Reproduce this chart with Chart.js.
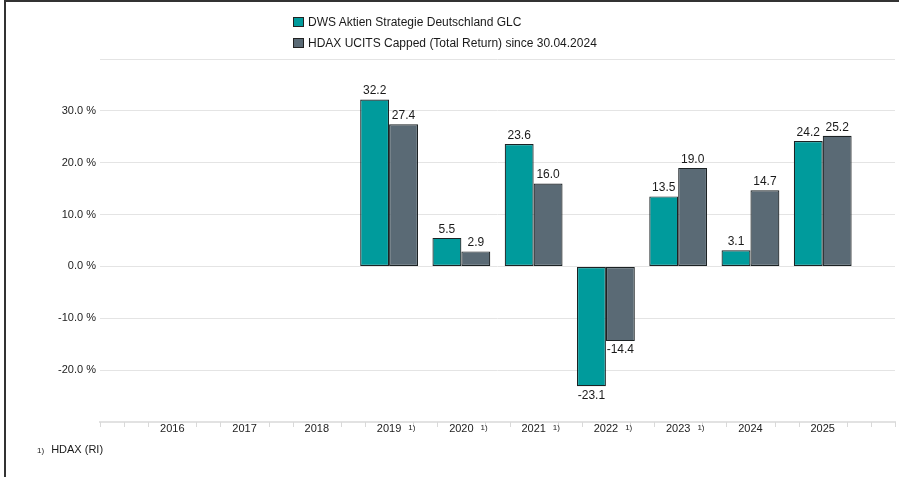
<!DOCTYPE html>
<html><head><meta charset="utf-8">
<script src="https://cdn.jsdelivr.net/npm/chart.js@4/dist/chart.umd.min.js"></script>
<style>
html,body{margin:0;padding:0;background:#fff;}
#wrap{position:relative;width:899px;height:477px;overflow:hidden;font-family:"Liberation Sans",Arial,sans-serif;}
#frame{position:absolute;left:4px;top:0;width:895px;height:477px;border-left:2px solid #333;border-top:2px solid #333;box-sizing:border-box;pointer-events:none;}
canvas{position:absolute;left:0;top:0;}
#legend{position:absolute;left:293px;top:11px;}
.li{display:flex;align-items:center;height:21px;font-size:12px;color:#1a1a1a;white-space:nowrap;}
.sw{width:11px;height:10px;box-sizing:border-box;border:1px solid #222;margin-right:4px;}
#foot{position:absolute;left:37px;top:441px;font-size:11px;color:#1a1a1a;display:flex;align-items:center;height:16px;}
#foot .m{font-size:8px;margin-right:7px;margin-top:2px;}
</style>
</head><body>
<div id="wrap">
<canvas id="c" width="899" height="477"></canvas>
<div id="legend"></div>
<div id="foot"></div>
<div id="frame"></div>
</div>
<script>
const FONT = '"Liberation Sans", Arial, sans-serif';
const years = ['2016','2017','2018','2019','2020','2021','2022','2023','2024','2025'];
const footnoteYears = ['2019','2020','2021','2022','2023'];
const seriesNames = ['DWS Aktien Strategie Deutschland GLC','HDAX UCITS Capped (Total Return) since 30.04.2024'];
const dwsValues  = [null,null,null,32.2,5.5,23.6,-23.1,13.5,3.1,24.2];
const hdaxValues = [null,null,null,27.4,2.9,16.0,-14.4,19.0,14.7,25.2];
const yTickLabels = [-20,-10,0,10,20,30];
const footnoteMark = '1)';
const footnoteText = 'HDAX (RI)';
const seriesColors = ['#009b9c','#5a6a75'];

const labels = [''].concat(years, ['']);
const pad = arr => [null].concat(arr, [null]);

const dataLabelPlugin = {
  id:'dataLabels',
  afterDatasetsDraw(chart){
    const ctx = chart.ctx;
    ctx.save();
    ctx.font = '12px ' + FONT;
    ctx.fillStyle = '#1a1a1a';
    ctx.textAlign = 'center';
    chart.data.datasets.forEach((ds, di) => {
      const meta = chart.getDatasetMeta(di);
      meta.data.forEach((el, i) => {
        const v = ds.data[i];
        if (v === null || v === undefined) return;
        const t = v.toFixed(1);
        if (v >= 0) { ctx.textBaseline = 'alphabetic'; ctx.fillText(t, el.x, el.y - 5); }
        else { ctx.textBaseline = 'top'; ctx.fillText(t, el.x, el.y + 3); }
      });
    });
    ctx.restore();
  }
};

const axisDecorPlugin = {
  id:'axisDecor',
  afterDraw(chart){
    const ctx = chart.ctx;
    const xs = chart.scales.x;
    const bottom = chart.chartArea.bottom;
    const step = xs.getPixelForValue(1) - xs.getPixelForValue(0);
    ctx.save();
    ctx.strokeStyle = '#d9d9d9';
    ctx.lineWidth = 1;
    const marks = [xs.left, xs.right];
    for (let i = 0; i < labels.length; i++) {
      const c = xs.getPixelForValue(i);
      [c - step/3, c + step/3].forEach(p => { if (p > xs.left + 2 && p < xs.right - 2) marks.push(p); });
    }
    marks.forEach(p => {
      const px = Math.round(p) + 0.5;
      ctx.beginPath(); ctx.moveTo(px, bottom); ctx.lineTo(px, bottom + 5); ctx.stroke();
    });
    ctx.fillStyle = '#222';
    ctx.textBaseline = 'top';
    ctx.textAlign = 'left';
    labels.forEach((lab, i) => {
      if (!footnoteYears.includes(lab)) return;
      const c = xs.getPixelForValue(i);
      ctx.font = '11px ' + FONT;
      const w = ctx.measureText(lab).width;
      ctx.font = '8px ' + FONT;
      ctx.fillText(footnoteMark, c + w/2 + 7, bottom + 2);
    });
    ctx.restore();
  }
};

const chart = new Chart(document.getElementById('c'), {
  type:'bar',
  data:{
    labels: labels,
    datasets:[
      {label: seriesNames[0], data: pad(dwsValues), backgroundColor: seriesColors[0], borderColor:'#1c2224', borderWidth:1.2, borderSkipped:false},
      {label: seriesNames[1], data: pad(hdaxValues), backgroundColor: seriesColors[1], borderColor:'#1c2224', borderWidth:1.2, borderSkipped:false}
    ]
  },
  options:{
    responsive:false,
    animation:false,
    layout:{padding:{left:0,right:4,top:59,bottom:0}},
    datasets:{bar:{categoryPercentage:0.8, barPercentage:1.0}},
    plugins:{legend:{display:false}, tooltip:{enabled:false}},
    scales:{
      x:{
        offset:false,
        grid:{display:true, drawOnChartArea:false, drawTicks:false},
        border:{display:true, color:'#e2e2e2', width:2},
        ticks:{autoSkip:false, maxRotation:0, color:'#222', padding:0, font:{size:11, family:FONT}},
        afterFit(s){ s.height = 55; }
      },
      y:{
        min:-30, max:40,
        ticks:{stepSize:10, color:'#222', padding:4, font:{size:11, family:FONT},
          callback: v => yTickLabels.includes(v) ? v.toFixed(1) + ' %' : ''},
        grid:{drawTicks:false, lineWidth:1, color: c => (c.tick && c.tick.value === -30) ? 'rgba(0,0,0,0)' : '#e4e4e4'},
        border:{display:false},
        afterFit(s){ s.width = 100; }
      }
    }
  },
  plugins:[dataLabelPlugin, axisDecorPlugin]
});

const lg = document.getElementById('legend');
chart.data.datasets.forEach(ds => {
  const row = document.createElement('div'); row.className = 'li';
  const sw = document.createElement('span'); sw.className = 'sw'; sw.style.background = ds.backgroundColor;
  const tx = document.createElement('span'); tx.textContent = ds.label;
  row.appendChild(sw); row.appendChild(tx); lg.appendChild(row);
});
const ft = document.getElementById('foot');
const m = document.createElement('span'); m.className = 'm'; m.textContent = footnoteMark;
const ftx = document.createElement('span'); ftx.textContent = footnoteText;
ft.appendChild(m); ft.appendChild(ftx);
</script>
</body></html>
